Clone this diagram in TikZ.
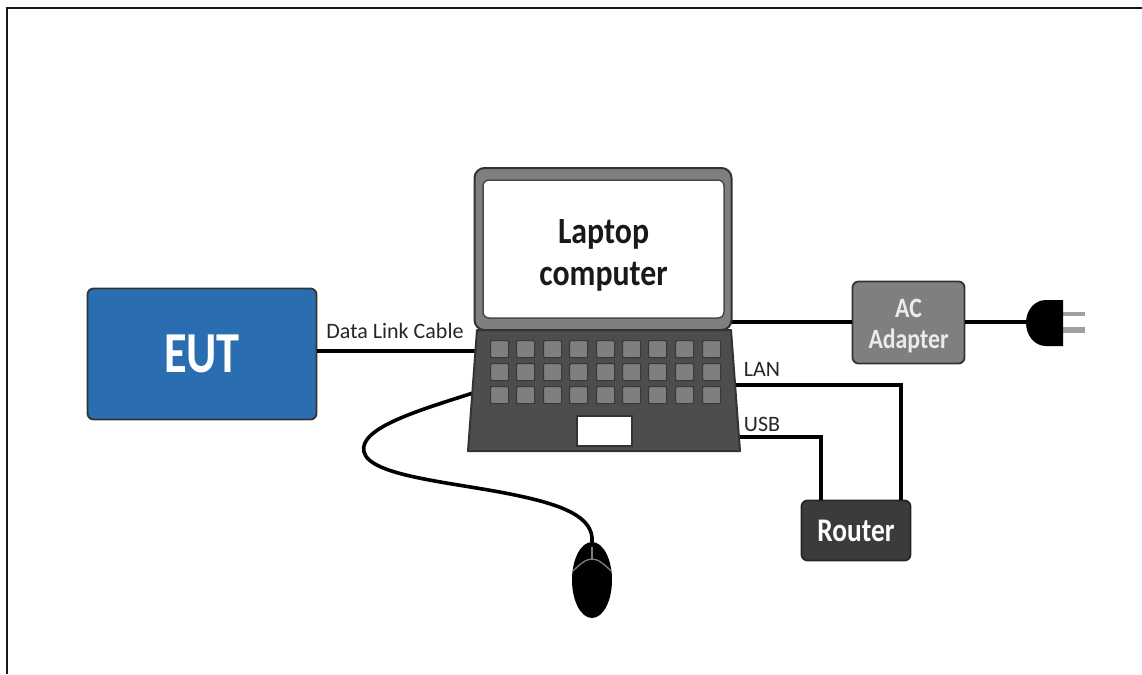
\documentclass[tikz,border=0pt]{standalone}
\usepackage{graphicx}
\usepackage{fontspec}
\setmainfont{Carlito}
\usetikzlibrary{calc,shapes.geometric}
\definecolor{lapdark}{HTML}{4D4D4D}
\definecolor{lapmid}{HTML}{7F7F7F}
\definecolor{edge}{HTML}{333333}
\definecolor{eutblue}{HTML}{2A6DB0}
\definecolor{routerdark}{HTML}{3B3B3B}
\newcommand{\narrowtxt}[2]{\scalebox{#1}[1]{#2}}
\tikzset{
  wire/.style={line width=3.6pt,black},
  boxnode/.style={draw=edge,line width=1.8pt,rounded corners=6pt,inner sep=0pt,align=center,text=white,font=\bfseries},
  keycap/.style={draw=edge!80!lapdark,fill=lapmid,line width=1.2pt,rounded corners=1pt,minimum width=18pt,minimum height=17pt,inner sep=0pt},
  tag/.style={font=\fontsize{22}{24}\selectfont,text=black!85,inner sep=0pt,anchor=center}
}
\begin{document}
\begin{tikzpicture}[x=1pt,y=-1pt]
\useasboundingbox (0,0) rectangle (1142,674);
\fill[white] (0,0) rectangle (1142,674);
% frame
\coordinate (frameBL) at (7,674);
\coordinate (frameTL) at (7,8);
\coordinate (frameTR) at (1142,8);
\draw[line width=1.5pt,black!90,line cap=butt] (frameBL) -- (frameTL) -- (frameTR);
% free wire ends on the laptop
\coordinate (lapAC) at (731,322);
\coordinate (lapData) at (478,351);
\coordinate (lapLAN) at (736,385);
\coordinate (lapUSB) at (739,437);
\coordinate (lapMouse) at (473,393);
% nodes
\node[boxnode,fill=eutblue,minimum width=229pt,minimum height=131pt,font=\bfseries\fontsize{58}{60}\selectfont] (eut) at (202,354) {\narrowtxt{0.8}{EUT}};
\node[boxnode,fill=lapmid,minimum width=112pt,minimum height=82pt,font=\bfseries\fontsize{28}{33}\selectfont,text=white!92!black] (adapter) at (908.5,322.5) {\rule{0pt}{26pt}\narrowtxt{0.85}{AC}\\[-2pt]\narrowtxt{0.85}{Adapter}};
\node[boxnode,fill=routerdark,draw=black!85,minimum width=109pt,minimum height=60pt,font=\bfseries\fontsize{33}{35}\selectfont] (router) at (856,530.5) {\narrowtxt{0.83}{Router}};
% wires
\draw[wire] (eut.east |- lapData) -- (lapData);
\draw[wire] (lapAC) -- (adapter.west |- lapAC);
\draw[wire] (lapLAN) -| ($(router.north)+(45,0)$);
\draw[wire] (lapUSB) -| ($(router.north)+(-35,0)$);
% mouse
\node[draw=none,fill=black,ellipse,minimum width=40pt,minimum height=76pt,inner sep=0pt] (mouse) at (592,580) {};
\draw[wire] (lapMouse) .. controls (420,410) and (358,428) .. (364,452)
  .. controls (370,476) and (450,482) .. (510,494)
  .. controls (560,504) and (594,516) .. (mouse.north);
\draw[lapmid,line width=1.3pt] (592,547) -- (592,559);
\draw[lapmid,line width=1.3pt] (573,571) .. controls (580,564) and (586,559) .. (592,559) .. controls (598,559) and (604,564) .. (611,571);
% plug
\fill[lapmid!75] (1060,311.5) rectangle (1085,315.5);
\fill[lapmid!75] (1060,327) rectangle (1085,333);
\node[fill=black,minimum width=2pt,minimum height=2pt,inner sep=0pt] (plug) at (1045,322.5) {};
\fill[black] (1063,300) -- (1046,300) .. controls (1034,300) and (1026,311) .. (1026,322.5) .. controls (1026,335) and (1034,346) .. (1046,346) -- (1063,346) -- cycle;
\draw[wire] (adapter.east |- lapAC) -- (plug.west |- lapAC);
% laptop
\node[draw=edge,fill=lapmid,line width=2pt,rounded corners=10pt,minimum width=257pt,minimum height=162pt,inner sep=0pt] (lid) at (603,249) {};
\node[draw=edge!70!lapmid,fill=white,line width=1.5pt,rounded corners=6pt,minimum width=241pt,minimum height=138pt,inner sep=0pt,align=center,font=\bfseries\fontsize{37}{42}\selectfont,text=black!90] (screen) at (603.5,249) {\rule{0pt}{37pt}\narrowtxt{0.86}{Laptop}\\\narrowtxt{0.86}{computer}};
\draw[draw=edge,fill=lapdark,line width=2pt,line join=round] (477,330) -- (731,330) -- (740,451) -- (468,451) -- cycle;
\foreach \kx in {490,516,543,569,596,622,648,675,702}
  \foreach \ky in {340,363,386}
    \node[keycap,anchor=north west] (key\kx\ky) at (\kx,\ky) {};
\node[draw=black!80,fill=white,line width=1.6pt,minimum width=55pt,minimum height=30pt,inner sep=0pt] (touchpad) at (604.5,431) {};
% labels
\node[tag] (datalabel) at (395,331) {Data Link Cable};
\node[tag] (lanlabel) at (762,369) {LAN};
\node[tag] (usblabel) at (762,424) {USB};
\end{tikzpicture}
\end{document}
